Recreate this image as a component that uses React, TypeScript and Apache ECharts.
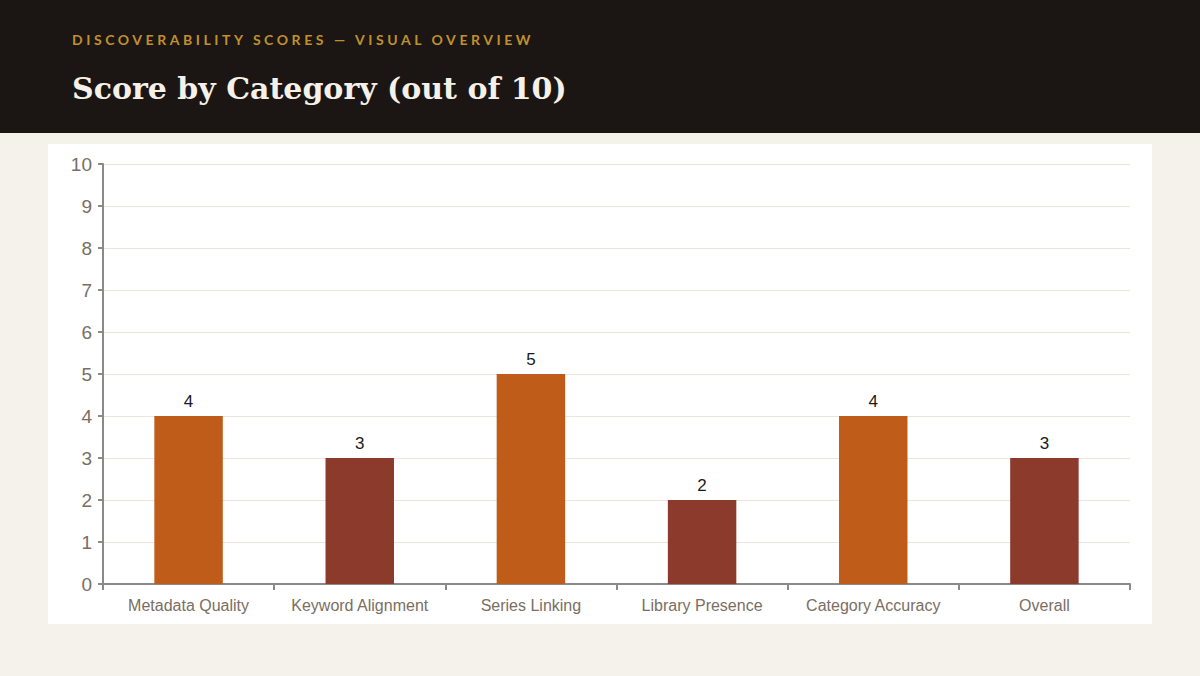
import React, { useEffect, useRef } from "react";
import * as echarts from "echarts";

const categories = [
  "Metadata Quality",
  "Keyword Alignment",
  "Series Linking",
  "Library Presence",
  "Category Accuracy",
  "Overall",
];
const scores = [4, 3, 5, 2, 4, 3];
const barColors = ["#c05c1a", "#8b3a2b", "#c05c1a", "#8b3a2b", "#c05c1a", "#8b3a2b"];
const yMin = 0;
const yMax = 10;
const yInterval = 1;

const eyebrow = "DISCOVERABILITY SCORES — VISUAL OVERVIEW";
const title = "Score by Category (out of 10)";

export default function App() {
  const ref = useRef<HTMLDivElement>(null);

  useEffect(() => {
    if (!ref.current) return;
    const chart = echarts.init(ref.current, undefined, { renderer: "svg" });
    chart.setOption({
      animation: false,
      grid: { left: 55, right: 22, top: 20, bottom: 40, containLabel: false },
      xAxis: {
        type: "category",
        data: categories,
        axisLine: { lineStyle: { color: "#8a8a8a", width: 2 } },
        axisTick: { show: true, length: 6, lineStyle: { color: "#8a8a8a", width: 2 } },
        axisLabel: {
          interval: 0,
          color: "#7a6e63",
          fontSize: 16,
          fontFamily: "Liberation Sans, Arial, sans-serif",
          margin: 13,
        },
      },
      yAxis: {
        type: "value",
        min: yMin,
        max: yMax,
        interval: yInterval,
        axisLine: { show: true, lineStyle: { color: "#8a8a8a", width: 2 } },
        axisTick: { show: true, length: 5, lineStyle: { color: "#8a8a8a", width: 2 } },
        splitLine: { lineStyle: { color: "#ebe5dc", width: 1 } },
        axisLabel: {
          color: "#7a6e63",
          fontSize: 19,
          fontFamily: "Liberation Sans, Arial, sans-serif",
          margin: 11,
        },
      },
      series: [
        {
          type: "bar",
          data: scores.map((v, i) => ({ value: v, itemStyle: { color: barColors[i] } })),
          barWidth: "40%",
          label: {
            show: true,
            position: "top",
            distance: 6,
            color: "#1a1a1a",
            fontSize: 17,
            fontFamily: "Liberation Sans, Arial, sans-serif",
          },
        },
      ],
    });
    return () => chart.dispose();
  }, []);

  return (
    <div
      style={{
        position: "absolute",
        left: 0,
        top: 0,
        width: 1200,
        height: 676,
        background: "#f5f2eb",
        overflow: "hidden",
      }}
    >
      <div
        style={{
          position: "absolute",
          left: 0,
          top: 0,
          width: 1200,
          height: 133,
          background: "#1b1613",
        }}
      >
        <div
          style={{
            position: "absolute",
            left: 72,
            top: 31,
            fontFamily: "Lato, sans-serif",
            fontWeight: 700,
            fontSize: 14,
            letterSpacing: "3.55px",
            color: "#c0902e",
            whiteSpace: "nowrap",
            lineHeight: "18px",
          }}
        >
          {eyebrow}
        </div>
        <div
          style={{
            position: "absolute",
            left: 72,
            top: 70,
            fontFamily: "DejaVu Serif, serif",
            fontWeight: 700,
            fontSize: 30,
            color: "#f5f0e8",
            whiteSpace: "nowrap",
            lineHeight: "38px",
          }}
        >
          {title}
        </div>
      </div>
      <div
        style={{
          position: "absolute",
          left: 48,
          top: 144,
          width: 1104,
          height: 480,
          background: "#ffffff",
        }}
      >
        <div ref={ref} style={{ width: 1104, height: 480 }} />
      </div>
    </div>
  );
}
